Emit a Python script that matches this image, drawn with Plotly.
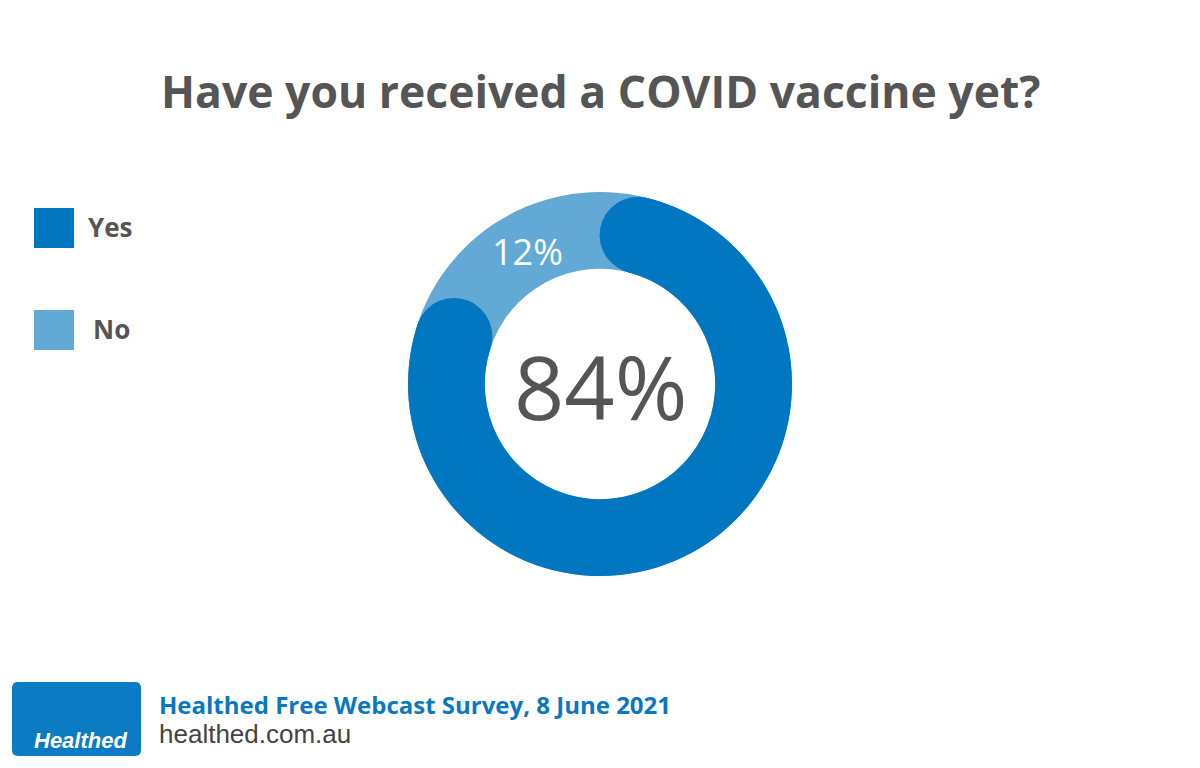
import math

import plotly.graph_objects as go

# data
categories = ["Yes", "No"]
percents = [84, 12]
colors = ["#0077c0", "#62a9d6"]

title = "Have you received a COVID vaccine yet?"
source_line = "Healthed Free Webcast Survey, 8 June 2021"
site_line = "healthed.com.au"

W, H = 1200, 768
cx, cy = 600, 384          # donut centre in px
r_out = 192
hole = 0.6
r_in = r_out * hole
r_mid = (r_out + r_in) / 2
cap_r = (r_out - r_in) / 2
cap_deg = math.degrees(cap_r / r_mid)

yes_pct, no_pct = percents
yes_deg = yes_pct * 3.6

dom_x = [(cx - r_out) / W, (cx + r_out) / W]
dom_y = [1 - (cy + r_out) / H, 1 - (cy - r_out) / H]

fig = go.Figure()

# full light ring in the background
fig.add_trace(go.Pie(
    values=[100],
    marker=dict(colors=[colors[1]], line=dict(width=0)),
    hole=hole, sort=False, textinfo="none", hoverinfo="skip",
    showlegend=False, domain=dict(x=dom_x, y=dom_y),
))

# "Yes" arc, trimmed so the round caps fit inside its share
core = yes_pct - 2 * cap_deg / 3.6
fig.add_trace(go.Pie(
    values=[core, 100 - core],
    marker=dict(colors=[colors[0], "rgba(0,0,0,0)"], line=dict(width=0)),
    hole=hole, sort=False, direction="clockwise", rotation=cap_deg,
    textinfo="none", hoverinfo="skip", showlegend=False,
    domain=dict(x=dom_x, y=dom_y),
))


def to_paper(px, py):
    return px / W, 1 - py / H


def polar(deg, rad):
    a = math.radians(deg)
    return cx + rad * math.sin(a), cy - rad * math.cos(a)


shapes = []
for ang in [cap_deg, yes_deg - cap_deg]:
    px, py = polar(ang, r_mid)
    x0, y1 = to_paper(px - cap_r, py - cap_r)
    x1, y0 = to_paper(px + cap_r, py + cap_r)
    shapes.append(dict(type="circle", xref="paper", yref="paper",
                       x0=x0, x1=x1, y0=y0, y1=y1,
                       fillcolor=colors[0], line=dict(width=0)))

# legend squares
legend_y = [228, 330]
for col, ly in zip(colors, legend_y):
    x0, y1 = to_paper(34, ly - 20)
    x1, y0 = to_paper(74, ly + 20)
    shapes.append(dict(type="rect", xref="paper", yref="paper",
                       x0=x0, x1=x1, y0=y0, y1=y1,
                       fillcolor=col, line=dict(width=0)))

# logo box
shapes.append(dict(
    type="path", xref="paper", yref="paper",
    path="M {:.4f},{:.4f} L {:.4f},{:.4f} Q {:.4f},{:.4f} {:.4f},{:.4f} "
         "L {:.4f},{:.4f} Q {:.4f},{:.4f} {:.4f},{:.4f} L {:.4f},{:.4f} "
         "Q {:.4f},{:.4f} {:.4f},{:.4f} L {:.4f},{:.4f} Q {:.4f},{:.4f} {:.4f},{:.4f} Z".format(
        *to_paper(18, 682), *to_paper(135, 682), *to_paper(141, 682), *to_paper(141, 688),
        *to_paper(141, 750), *to_paper(141, 756), *to_paper(135, 756),
        *to_paper(18, 756), *to_paper(12, 756), *to_paper(12, 750),
        *to_paper(12, 688), *to_paper(12, 682), *to_paper(18, 682)),
    fillcolor="#0b7bc4", line=dict(width=0)))

annotations = []


def label(text, px, py, size, color, family="Open Sans", xanchor="center", weight=None):
    x, y = to_paper(px, py)
    font = dict(size=size, color=color, family=family)
    if weight:
        font["weight"] = weight
    annotations.append(dict(text=text, x=x, y=y, xref="paper", yref="paper",
                            showarrow=False, xanchor=xanchor, yanchor="middle",
                            align="left", font=font))


label(f"<b>{title}</b>", cx, 90, 44.5, "#555555")
label(f"{yes_pct}%", cx, 386, 88, "#555555")
no_mid = (yes_deg + 360) / 2
lx, ly = polar(no_mid, 151)
label(f"{no_pct}%", lx, ly, 36, "#ffffff")

for cat, ly, lx0 in zip(categories, legend_y, [86, 91]):
    label(f"<b>{cat}</b>", lx0, ly - 1, 26, "#555555", xanchor="left")

# footer: two lines in one text block
footer = (f"<b><span style='color:#0a78c1;font-size:24px'>{source_line}</span></b><br>"
          f"<span style=\"font-family:'Liberation Sans';font-size:26px\">{site_line}</span>")
label(footer, 157, 718, 22, "#444444", xanchor="left")
label("<b><i>Healthed</i></b>", 80, 740, 22, "#ffffff", family="Liberation Sans")

fig.update_layout(
    width=W, height=H,
    margin=dict(l=0, r=0, t=0, b=0),
    paper_bgcolor="white", plot_bgcolor="white",
    shapes=shapes, annotations=annotations,
    showlegend=False,
)

fig.write_html("out.html", config={"displayModeBar": False},
               post_script="document.body.style.margin='0';")
